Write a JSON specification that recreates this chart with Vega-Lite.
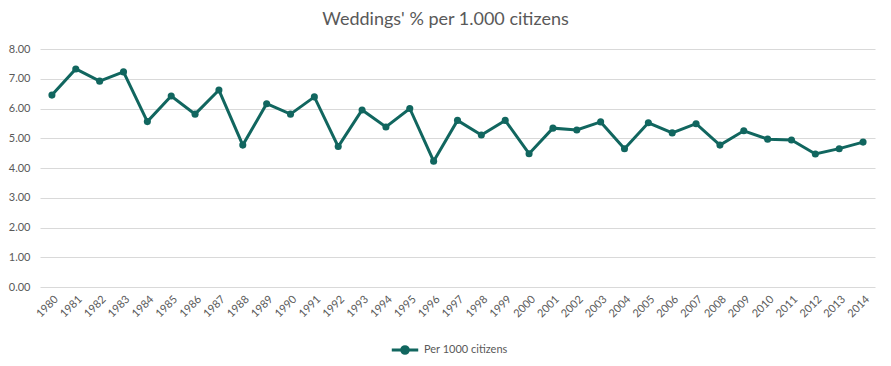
{
  "$schema": "https://vega.github.io/schema/vega-lite/v6.json",
  "width": 835,
  "height": 238,
  "autosize": {"type": "none"},
  "padding": {"left": 40, "top": 49, "right": 16, "bottom": 79},
  "background": "white",
  "title": {
    "text": "Weddings' % per 1.000 citizens",
    "font": "Lato",
    "fontSize": 18,
    "fontWeight": "normal",
    "color": "#595959",
    "anchor": "middle",
    "dx": -12,
    "offset": 14
  },
  "config": {
    "view": {"stroke": null},
    "axis": {"labelFont": "Lato", "labelColor": "#595959", "labelFontSize": 11}
  },
  "data": {
    "values": [
      {"Year": "1980", "Rate": 6.45, "Series": "Per 1000 citizens"},
      {"Year": "1981", "Rate": 7.33, "Series": "Per 1000 citizens"},
      {"Year": "1982", "Rate": 6.92, "Series": "Per 1000 citizens"},
      {"Year": "1983", "Rate": 7.23, "Series": "Per 1000 citizens"},
      {"Year": "1984", "Rate": 5.56, "Series": "Per 1000 citizens"},
      {"Year": "1985", "Rate": 6.42, "Series": "Per 1000 citizens"},
      {"Year": "1986", "Rate": 5.81, "Series": "Per 1000 citizens"},
      {"Year": "1987", "Rate": 6.62, "Series": "Per 1000 citizens"},
      {"Year": "1988", "Rate": 4.77, "Series": "Per 1000 citizens"},
      {"Year": "1989", "Rate": 6.16, "Series": "Per 1000 citizens"},
      {"Year": "1990", "Rate": 5.81, "Series": "Per 1000 citizens"},
      {"Year": "1991", "Rate": 6.39, "Series": "Per 1000 citizens"},
      {"Year": "1992", "Rate": 4.72, "Series": "Per 1000 citizens"},
      {"Year": "1993", "Rate": 5.95, "Series": "Per 1000 citizens"},
      {"Year": "1994", "Rate": 5.38, "Series": "Per 1000 citizens"},
      {"Year": "1995", "Rate": 6.00, "Series": "Per 1000 citizens"},
      {"Year": "1996", "Rate": 4.23, "Series": "Per 1000 citizens"},
      {"Year": "1997", "Rate": 5.60, "Series": "Per 1000 citizens"},
      {"Year": "1998", "Rate": 5.11, "Series": "Per 1000 citizens"},
      {"Year": "1999", "Rate": 5.60, "Series": "Per 1000 citizens"},
      {"Year": "2000", "Rate": 4.48, "Series": "Per 1000 citizens"},
      {"Year": "2001", "Rate": 5.34, "Series": "Per 1000 citizens"},
      {"Year": "2002", "Rate": 5.28, "Series": "Per 1000 citizens"},
      {"Year": "2003", "Rate": 5.55, "Series": "Per 1000 citizens"},
      {"Year": "2004", "Rate": 4.65, "Series": "Per 1000 citizens"},
      {"Year": "2005", "Rate": 5.52, "Series": "Per 1000 citizens"},
      {"Year": "2006", "Rate": 5.18, "Series": "Per 1000 citizens"},
      {"Year": "2007", "Rate": 5.49, "Series": "Per 1000 citizens"},
      {"Year": "2008", "Rate": 4.77, "Series": "Per 1000 citizens"},
      {"Year": "2009", "Rate": 5.25, "Series": "Per 1000 citizens"},
      {"Year": "2010", "Rate": 4.97, "Series": "Per 1000 citizens"},
      {"Year": "2011", "Rate": 4.94, "Series": "Per 1000 citizens"},
      {"Year": "2012", "Rate": 4.47, "Series": "Per 1000 citizens"},
      {"Year": "2013", "Rate": 4.65, "Series": "Per 1000 citizens"},
      {"Year": "2014", "Rate": 4.87, "Series": "Per 1000 citizens"}
    ]
  },
  "mark": {"type": "line", "strokeWidth": 3, "point": {"size": 50, "filled": true}},
  "encoding": {
    "x": {
      "field": "Year",
      "type": "ordinal",
      "scale": {"type": "point", "padding": 0.5},
      "axis": {
        "title": null,
        "labelAngle": -45,
        "ticks": false,
        "domain": false,
        "grid": false,
        "labelPadding": 6
      }
    },
    "y": {
      "field": "Rate",
      "type": "quantitative",
      "scale": {"domain": [0, 8], "nice": false},
      "axis": {
        "title": null,
        "values": [0, 1, 2, 3, 4, 5, 6, 7, 8],
        "format": ".2f",
        "ticks": false,
        "domain": false,
        "gridColor": "#d9d9d9",
        "labelPadding": 10
      }
    },
    "color": {
      "field": "Series",
      "type": "nominal",
      "scale": {"range": ["#11665F"]},
      "legend": {
        "title": null,
        "orient": "none",
        "legendX": 350,
        "legendY": 286,
        "symbolType": "M-1,0H1M-0.25,0A0.25,0.25,0,1,1,0.25,0A0.25,0.25,0,1,1,-0.25,0",
        "symbolSize": 700,
        "symbolStrokeWidth": 3,
        "labelFont": "Lato",
        "labelFontSize": 11,
        "labelColor": "#595959",
        "labelOffset": 4
      }
    }
  }
}
